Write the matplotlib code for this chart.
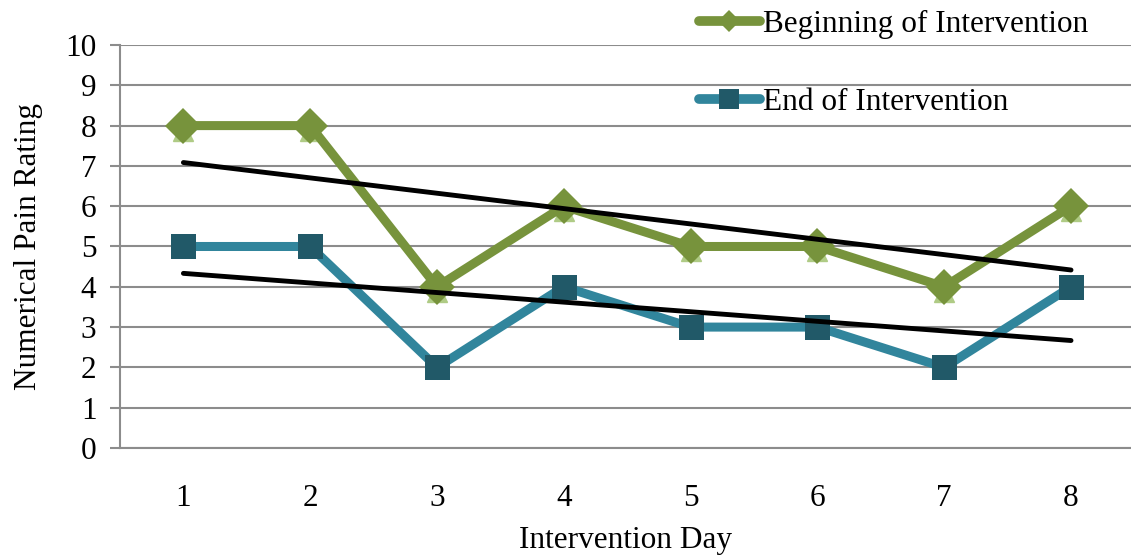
import matplotlib.pyplot as plt
import matplotlib.transforms as mtransforms
import numpy as np

plt.rcParams['font.family'] = ['Liberation Serif', 'DejaVu Serif']

# datos
dias = [1, 2, 3, 4, 5, 6, 7, 8]
inicio = [8, 8, 4, 6, 5, 5, 4, 6]
final = [5, 5, 2, 4, 3, 3, 2, 4]
etiquetas = ['Beginning of Intervention', 'End of Intervention']

verde = '#77933C'
verde_claro = '#AFCB85'
azul = '#31859C'
azul_osc = '#215968'
gris = '#8C8C8C'
fs = 22.5

fig = plt.figure(figsize=(11.31, 5.59), dpi=100)
ax = fig.add_axes([0.1061, 0.1986, 0.8939, 0.7209])

# sombra clara bajo los rombos (efecto 3D del original)
sombra = mtransforms.offset_copy(ax.transData, fig=fig, x=0, y=-5, units='dots')
ax.plot(dias, inicio, linestyle='none', marker='^', markersize=15,
        color=verde_claro, transform=sombra, zorder=3)

l1, = ax.plot(dias, inicio, color=verde, linewidth=6.5, marker='D',
              markersize=18, markeredgewidth=0, label=etiquetas[0], zorder=4)
l2, = ax.plot(dias, final, color=azul, linewidth=6.5, marker='s',
              markersize=18, markerfacecolor=azul_osc, markeredgewidth=0,
              label=etiquetas[1], zorder=4)

# líneas de tendencia lineal
x = np.array(dias)
for serie in (inicio, final):
    m, b = np.polyfit(x, serie, 1)
    ax.plot(x, m * x + b, color='black', linewidth=3.5, solid_capstyle='round', zorder=5)

ax.set_xlim(0.5, 8.473)
ax.set_ylim(0, 10)
ax.set_yticks(range(0, 11))
ax.set_xticks(dias)
ax.grid(axis='y', color=gris, linewidth=1.5)
ax.set_axisbelow(True)
for lado in ('top', 'right'):
    ax.spines[lado].set_visible(False)
for lado in ('left', 'bottom'):
    ax.spines[lado].set_color(gris)
    ax.spines[lado].set_linewidth(1.5)
ax.tick_params(axis='y', length=7, width=1.5, color=gris, labelsize=fs, pad=10)
ax.tick_params(axis='x', length=0, labelsize=fs, pad=26)

ax.set_xlabel('Intervention Day', fontsize=fs, labelpad=9)
ax.set_ylabel('Numerical Pain Rating', fontsize=fs, labelpad=16)

leg = fig.legend(handles=[l1, l2], loc='upper left', bbox_to_anchor=(0.593, 1.032),
                 frameon=False, fontsize=fs, handlelength=1.95, handletextpad=0.1,
                 labelspacing=1.55)
for h in leg.legend_handles:
    h.set_linewidth(7)
    h.set_solid_capstyle('round')
leg.legend_handles[0].set_markersize(11)
leg.legend_handles[1].set_markersize(14)

plt.savefig('out.png', dpi=100)
plt.close()
